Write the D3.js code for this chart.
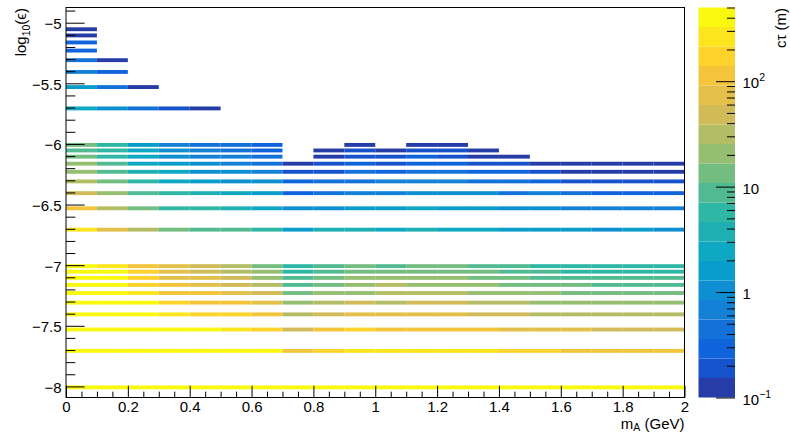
<!DOCTYPE html>
<html><head><meta charset="utf-8">
<script src="https://cdn.jsdelivr.net/npm/d3@7"></script>
<style>
body{margin:0;background:#fff;}
svg{display:block;font-family:"Liberation Sans",Arial,Helvetica,sans-serif;}
</style></head><body>
<svg id="chart" width="790" height="432"></svg>
<script>
const _ = null;
// x bins: m_A (GeV)
const massEdges = [0,0.1,0.2,0.3,0.4,0.5,0.6,0.7,0.8,0.9,1.0,1.1,1.2,1.3,1.4,1.5,1.6,1.7,1.8,1.9,2.0];
// y rows: log10(epsilon)
const logEps = [-5.0458,-5.0969,-5.1549,-5.2218,-5.3010,-5.3979,-5.5229,-5.6990,
  -6.0,-6.0458,-6.0969,-6.1549,-6.2218,-6.3010,-6.3979,-6.5229,-6.6990,
  -7.0,-7.0458,-7.0969,-7.1549,-7.2218,-7.3010,-7.3979,-7.5229,-7.6990,-8.0];
// c*tau (m) per row, per mass bin (null = empty)
const ctau = [
  [0.12,_,_,_,_,_,_,_,_,_,_,_,_,_,_,_,_,_,_,_],
  [0.14,_,_,_,_,_,_,_,_,_,_,_,_,_,_,_,_,_,_,_],
  [0.27,_,_,_,_,_,_,_,_,_,_,_,_,_,_,_,_,_,_,_],
  [0.31,_,_,_,_,_,_,_,_,_,_,_,_,_,_,_,_,_,_,_],
  [0.42,0.13,_,_,_,_,_,_,_,_,_,_,_,_,_,_,_,_,_,_],
  [0.6,0.26,_,_,_,_,_,_,_,_,_,_,_,_,_,_,_,_,_,_],
  [1.5,0.4,0.11,_,_,_,_,_,_,_,_,_,_,_,_,_,_,_,_,_],
  [2.4,1.0,0.44,0.19,0.12,_,_,_,_,_,_,_,_,_,_,_,_,_,_,_],
  [12,5.6,1.5,0.62,0.5,0.4,0.28,_,_,0.11,_,0.12,0.11,_,_,_,_,_,_,_],
  [8.5,5.5,2.2,1.0,0.65,0.42,0.3,_,0.13,0.17,0.12,0.18,0.17,0.12,_,_,_,_,_,_],
  [12,6.0,2.6,1.1,0.7,0.6,0.38,_,0.14,0.2,0.18,0.25,0.2,0.13,0.12,_,_,_,_,_],
  [17,8,2.8,1.4,0.95,0.7,0.45,0.13,0.2,0.3,0.21,0.3,0.28,0.22,0.18,0.14,0.13,0.12,0.12,0.11],
  [22,9,3.5,2.1,1.2,1.0,0.65,0.18,0.2,0.38,0.3,0.4,0.4,0.33,0.26,0.2,0.14,0.13,0.12,0.12],
  [30,13,5.5,2.6,1.7,1.1,0.95,0.28,0.42,0.48,0.6,0.65,0.6,0.5,0.4,0.3,0.2,0.19,0.18,0.17],
  [45,19,8.5,5.5,4,2.5,1.6,0.3,0.45,0.65,0.7,0.9,0.9,0.85,0.5,0.6,0.42,0.33,0.3,0.28],
  [105,30,13,6,5,3.6,2.5,0.95,1.1,1.5,1.4,2.2,1.6,1.5,1.1,1.0,0.75,0.7,0.65,0.6],
  [240,70,30,13,9.5,8,5.5,1.8,3.5,3.6,2.8,3.8,2.7,2.4,1.8,1.7,1.5,1.2,1.6,1.2],
  [450,280,120,75,50,33,13,5.5,8,11.5,9,12,12,9.5,8.5,6,5.8,5.5,5.3,5.2],
  [460,400,160,80,55,35,18,6.5,9.5,14,13,14,14,12,10,9,6.5,6.2,6,6],
  [470,430,180,85,65,45,22,8.5,12,20,19,18,18,14,12,9.5,9,8.5,8.5,8],
  [480,450,200,100,70,50,28,9,14,22,27,23,22,21,15,14,13,10,9.5,9.5],
  [490,470,230,120,100,70,42,13,19,24,30,29,28,22,20,18,15,14,13,13],
  [495,480,400,160,130,100,65,18,30,42,35,45,43,32,28,22,20,19,18,18],
  [495,490,460,240,180,150,100,30,45,65,68,65,62,50,45,35,33,30,29,28],
  [495,495,490,460,380,260,160,50,110,150,120,115,110,100,80,75,70,55,50,48],
  [495,495,495,495,490,470,400,115,170,250,240,230,225,220,180,165,130,120,115,110],
  [495,495,495,495,495,495,495,495,495,495,495,495,495,495,495,495,495,495,495,495]
];
const xTicks = [0,0.2,0.4,0.6,0.8,1,1.2,1.4,1.6,1.8,2];
const xTickLabels = ["0","0.2","0.4","0.6","0.8","1","1.2","1.4","1.6","1.8","2"];
const xMinorTicks = [0.05,0.1,0.15,0.25,0.3,0.35,0.45,0.5,0.55,0.65,0.7,0.75,0.85,0.9,0.95,1.05,1.1,1.15,1.25,1.3,1.35,1.45,1.5,1.55,1.65,1.7,1.75,1.85,1.9,1.95];
const yTicks = [-5,-5.5,-6,-6.5,-7,-7.5,-8];
const yTickLabels = ["\u22125","\u22125.5","\u22126","\u22126.5","\u22127","\u22127.5","\u22128"];
const yMinorTicks = [-4.9,-5.1,-5.2,-5.3,-5.4,-5.6,-5.7,-5.8,-5.9,-6.1,-6.2,-6.3,-6.4,-6.6,-6.7,-6.8,-6.9,-7.1,-7.2,-7.3,-7.4,-7.6,-7.7,-7.8,-7.9];
const zRange = [0.1, 500];
const zTicks = [0.1, 1, 10, 100];
const zTickBase = ["10", "1", "10", "10"];
const zTickExp = ["\u22121", "", "", "2"];
const zMinorTicks = [0.2,0.3,0.4,0.5,0.6,0.7,0.8,0.9,2,3,4,5,6,7,8,9,20,30,40,50,60,70,80,90,200,300,400,500];
const nContours = 20;

// ROOT kBird palette
const birdStops = [0,31,63,95,127,159,191,223,255];
const birdR = [0.2082,0.0592,0.0780,0.0232,0.1802,0.5301,0.8186,0.9956,0.9764];
const birdG = [0.1664,0.3599,0.5041,0.6419,0.7178,0.7492,0.7328,0.7862,0.9832];
const birdB = [0.5293,0.8684,0.8385,0.7914,0.6425,0.4662,0.3499,0.1968,0.0539];
const bird = d3.scaleLinear().domain(birdStops)
  .range(birdStops.map((s,i)=>d3.rgb(birdR[i]*255,birdG[i]*255,birdB[i]*255).toString()))
  .interpolate(d3.interpolateRgb);
const bandColors = d3.range(nContours).map(i=>bird(Math.floor((i+0.99)*255/nContours)));
const lzMin = Math.log10(zRange[0]), lzMax = Math.log10(zRange[1]);
function bandOf(v){
  let b = Math.floor(0.01 + (Math.log10(v)-lzMin)*nContours/(lzMax-lzMin));
  return Math.max(0, Math.min(nContours-1, b));
}

const svg = d3.select("#chart");
const fx0 = 66, fx1 = 684.5, fy0 = 7.5, fy1 = 397.5;
const x = d3.scaleLinear().domain([0,2]).range([fx0,fx1]);
const y = d3.scaleLinear().domain([-8.0916,-4.8745]).range([fy1,fy0]);
const z = d3.scaleLog().domain(zRange).range([fy1,fy0]);

// cells
const cells = [];
ctau.forEach((row,r)=>row.forEach((v,c)=>{ if(v!==null && v>=zRange[0]) cells.push({r,c,v}); }));
svg.append("g").selectAll("rect").data(cells).join("rect")
  .attr("x",d=>x(massEdges[d.c]))
  .attr("width",d=>x(massEdges[d.c+1])-x(massEdges[d.c]))
  .attr("y",d=>y(logEps[d.r]+0.008))
  .attr("height",d=>y(logEps[d.r]-0.024)-y(logEps[d.r]+0.008))
  .attr("fill",d=>bandColors[bandOf(d.v)]);

// frame
svg.append("rect").attr("x",fx0).attr("y",fy0).attr("width",fx1-fx0).attr("height",fy1-fy0)
  .attr("fill","none").attr("stroke","#000").attr("stroke-width",1);

const fs = 15;
// x axis
const gx = svg.append("g").attr("transform",`translate(0,${fy1})`);
gx.call(d3.axisBottom(x).tickValues(xTicks).tickSizeInner(-11.7).tickSizeOuter(0).tickPadding(4)
  .tickFormat((d,i)=>xTickLabels[i]));
gx.append("g").call(d3.axisBottom(x).tickValues(xMinorTicks).tickSizeInner(-5.85).tickSizeOuter(0).tickFormat(""));
gx.selectAll(".domain").remove();
gx.selectAll("text").attr("font-size",fs).attr("font-family","Liberation Sans, Arial, sans-serif").attr("fill","#000");
gx.selectAll("line").attr("stroke","#000");

// y axis
const gy = svg.append("g").attr("transform",`translate(${fx0},0)`);
gy.call(d3.axisLeft(y).tickValues(yTicks).tickSizeInner(-18.6).tickSizeOuter(0).tickPadding(4.5)
  .tickFormat((d,i)=>yTickLabels[i]));
gy.append("g").call(d3.axisLeft(y).tickValues(yMinorTicks).tickSizeInner(-9.3).tickSizeOuter(0).tickFormat(""));
gy.selectAll(".domain").remove();
gy.selectAll("text").attr("font-size",fs).attr("font-family","Liberation Sans, Arial, sans-serif").attr("fill","#000").attr("dy","0.4em");
gy.selectAll("line").attr("stroke","#000");

// axis titles
svg.append("text").attr("x",fx1).attr("y",428.7).attr("text-anchor","end").attr("font-size",fs)
  .call(t=>{
    t.append("tspan").text("m");
    t.append("tspan").attr("font-size",10.5).attr("dy",2).text("A");
    t.append("tspan").attr("dy",-2).text(" (GeV)");
  });
svg.append("text").attr("transform","translate(26,8) rotate(-90)").attr("text-anchor","end").attr("font-size",fs)
  .call(t=>{
    t.append("tspan").text("log");
    t.append("tspan").attr("font-size",10.5).attr("dy",3.5).text("10");
    t.append("tspan").attr("dy",-3.5).text("(\u03f5)");
  });

// colour bar
const cbx0 = 698.5, cbx1 = 735;
const bandEdges = d3.range(nContours+1).map(i=>Math.pow(10, lzMin + i*(lzMax-lzMin)/nContours));
svg.append("g").selectAll("rect").data(d3.range(nContours)).join("rect")
  .attr("x",cbx0).attr("width",cbx1-cbx0)
  .attr("y",i=>z(bandEdges[i+1])).attr("height",i=>z(bandEdges[i])-z(bandEdges[i+1]))
  .attr("fill",i=>bandColors[i]);
const gz = svg.append("g").attr("transform",`translate(${cbx1},0)`);
gz.call(d3.axisRight(z).tickValues(zTicks).tickSizeInner(-19).tickSizeOuter(0).tickFormat(""));
gz.append("g").call(d3.axisRight(z).tickValues(zMinorTicks).tickSizeInner(-8).tickSizeOuter(0).tickFormat(""));
gz.selectAll(".domain").remove();
gz.selectAll("line").attr("stroke","#000");
zTicks.forEach((v,i)=>{
  const t = svg.append("text").attr("x",742.5).attr("y",z(v)+7.3).attr("font-size",fs);
  t.append("tspan").text(zTickBase[i]);
  if(zTickExp[i]) t.append("tspan").attr("font-size",10.5).attr("dy",-7).text(zTickExp[i]);
});
svg.append("text").attr("transform","translate(786,8) rotate(-90)").attr("text-anchor","end").attr("font-size",fs)
  .text("c\u03c4 (m)");
</script>
</body></html>
